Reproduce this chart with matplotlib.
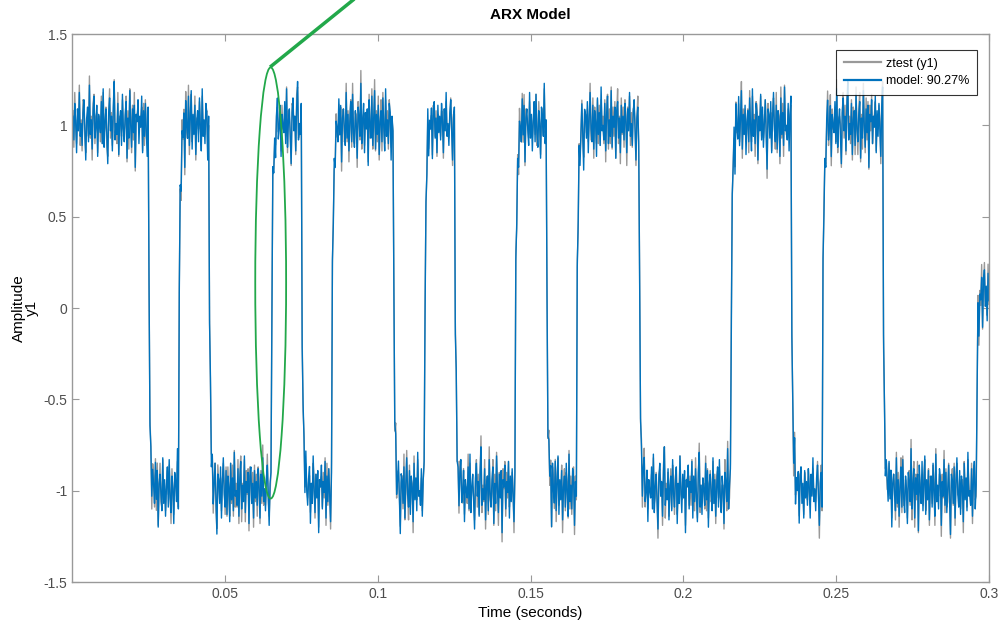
import numpy as np
import matplotlib
matplotlib.use("Agg")
import matplotlib.pyplot as plt
from matplotlib.patches import Ellipse

# ---- data ----
dt = 0.0003                      # sample time (s)
t_end = 0.3
# times where the square wave switches level (s)
switch_times = [0.0250, 0.0348, 0.0449, 0.0651, 0.0751, 0.0851, 0.1051, 0.1152,
                0.1253, 0.1451, 0.1551, 0.1652, 0.1854, 0.2154, 0.2354, 0.2454,
                0.2654, 0.2958]
# plateau level before the first switch and after every switch
levels = [1, -1, 1, -1, 1, -1, 1, -1, 1, -1, 1, -1, 1, -1, 1, -1, 1, -1, 0.08]
# measurement noise pattern seen on the plateaus (repeats along the record)
noise = [0.05, -0.08, 0.12, 0.02, -0.15, 0.09, -0.03, 0.18, -0.06, 0.01,
         -0.11, 0.07, 0.14, -0.02, -0.19, 0.04, 0.10, -0.09, 0.22, -0.05,
         0.03, -0.13, 0.08, 0.16, -0.07, -0.01, 0.11, -0.17, 0.06, 0.00,
         -0.04, 0.13, -0.10, 0.20, -0.12, 0.02, 0.09, -0.06, -0.21, 0.07,
         0.15, -0.03, 0.05, -0.14, 0.10, 0.24, -0.08, 0.01, -0.05, 0.12,
         -0.16, 0.03, 0.08, -0.11, 0.17, -0.02, -0.09, 0.06, 0.13, -0.18,
         0.04, -0.07, 0.19, 0.00, -0.12, 0.09, -0.04, 0.11, -0.23, 0.06,
         0.02, 0.14, -0.10, 0.05, -0.01, 0.16, -0.15, 0.08, -0.06, 0.12,
         -0.03, -0.17, 0.10, 0.21, -0.09, 0.03, -0.13, 0.07, 0.01, -0.08,
         0.15, -0.05, 0.11, -0.20, 0.04, 0.09, -0.02, -0.11, 0.18, -0.07,
         0.06, -0.14, 0.02, 0.13, -0.09, 0.17, -0.04, -0.12, 0.08, 0.01,
         -0.18, 0.10, 0.05, -0.06, 0.23, -0.10, 0.03, 0.12, -0.15, 0.07,
         -0.02, 0.09, -0.22, 0.14, 0.00, -0.07, 0.16, -0.11, 0.04, 0.19,
         -0.13, 0.06, -0.05, 0.11, -0.16, 0.02, 0.08, -0.09, 0.15, -0.01,
         -0.14, 0.20, -0.06, 0.03, -0.10, 0.12, 0.07, -0.19, 0.05, -0.03,
         0.17, -0.08, 0.10, -0.12, 0.01, 0.14, -0.04, -0.24, 0.09, 0.06,
         -0.07, 0.13, -0.15, 0.04, 0.18, -0.02, -0.09, 0.11, -0.13, 0.08,
         0.02, -0.17, 0.15, -0.05, 0.07, -0.11, 0.21, -0.03, 0.00, -0.08,
         0.12, -0.14, 0.06, 0.16, -0.10, 0.03, -0.06, 0.19, -0.12, 0.05,
         -0.01, 0.10, -0.18, 0.08, 0.13, -0.07, 0.04, -0.15, 0.11, -0.04]
# difference between measured output and model output
resid = [0.03, -0.04, 0.06, -0.02, 0.05, -0.06, 0.01, 0.04, -0.05, 0.02,
         -0.03, 0.07, -0.01, -0.05, 0.04, 0.00, -0.07, 0.03, 0.05, -0.02,
         0.02, -0.06, 0.04, 0.01, -0.03, 0.06, -0.04, 0.02, -0.01, 0.05,
         -0.05, 0.03, 0.00, -0.02, 0.07, -0.03, 0.01, -0.06, 0.04, -0.01,
         0.05, -0.04, 0.02, 0.03, -0.07, 0.01, 0.04, -0.02, -0.05, 0.06,
         -0.01, 0.02, -0.04, 0.05, -0.03, 0.00, 0.06, -0.05, 0.03, -0.02,
         0.04, -0.06, 0.01, 0.05, -0.03, 0.02, -0.04, 0.07, -0.02, 0.00]
tau = 0.0004                     # model time constant (s)
legend_labels = ["ztest (y1)", "model: 90.27%"]
title = "ARX Model"
xlabel = "Time (seconds)"
ylabel = "Amplitude\ny1"
xticks = [0.05, 0.1, 0.15, 0.2, 0.25, 0.3]
xtick_labels = ["0.05", "0.1", "0.15", "0.2", "0.25", "0.3"]
yticks = [-1.5, -1, -0.5, 0, 0.5, 1, 1.5]
ytick_labels = ["-1.5", "-1", "-0.5", "0", "0.5", "1", "1.5"]
# annotation (green ellipse + pointer), in data units
ell_center = (0.0650, 0.137)
ell_size = (0.0101, 2.36)
pointer = ([0.0648, 0.0960], [1.319, 1.741])

# ---- build the series ----
N = int(round(t_end / dt))
t = np.arange(1, N + 1) * dt
idx = np.searchsorted(np.array(switch_times), t)
u = np.array(levels, dtype=float)[idx]
a = np.exp(-dt / tau)
y = np.empty(N)
y[0] = u[0]
for k in range(1, N):
    y[k] = a * y[k - 1] + (1 - a) * u[k]
nz = np.resize(np.array(noise), N)
rz = np.resize(np.array(resid), N)
model = y + nz
ztest = model + rz

# ---- plot ----
plt.rcParams['font.family'] = ['Liberation Sans', 'DejaVu Sans']
fig = plt.figure(figsize=(9.99, 6.34), dpi=100)
ax = fig.add_axes([72 / 999, 52 / 634, 917 / 999, 548 / 634])

ax.plot(t, ztest, color='#999999', lw=1.0, label=legend_labels[0])
ax.plot(t, model, color='#0072BD', lw=1.0, label=legend_labels[1])

ax.set_xlim(0.0, 0.3)
ax.set_ylim(-1.5, 1.5)
ax.set_xticks(xticks)
ax.set_xticklabels(xtick_labels)
ax.set_yticks(yticks)
ax.set_yticklabels(ytick_labels)
ax.tick_params(direction='in', length=5, width=0.8, colors='#999999',
               labelcolor='#4d4d4d', labelsize=10, top=True, right=True)
for s in ax.spines.values():
    s.set_color('#999999')
    s.set_linewidth(1.0)

ax.set_title(title, fontsize=11, fontweight='bold', pad=11)
ax.set_xlabel(xlabel, fontsize=11, labelpad=4)
ax.set_ylabel(ylabel, fontsize=11, linespacing=0.95)
ax.yaxis.set_label_coords(-0.036, 0.5)

leg = ax.legend(loc='upper right', bbox_to_anchor=((977 - 72) / 917, (582 - 50) / 548),
                borderaxespad=0, fontsize=9, frameon=True, fancybox=False,
                handlelength=3.0, borderpad=0.6, labelspacing=0.45,
                handletextpad=0.4)
leg.get_frame().set_edgecolor('black')
leg.get_frame().set_linewidth(0.8)
for h in leg.get_lines():
    h.set_linewidth(1.6)

ell = Ellipse(ell_center, ell_size[0], ell_size[1], fill=False,
              edgecolor='#22A84A', lw=1.3, zorder=5)
ax.add_patch(ell)
ax.plot(pointer[0], pointer[1], color='#22A84A', lw=2.5, clip_on=False,
        zorder=6, solid_capstyle='butt')

fig.savefig('out.png', dpi=100)
